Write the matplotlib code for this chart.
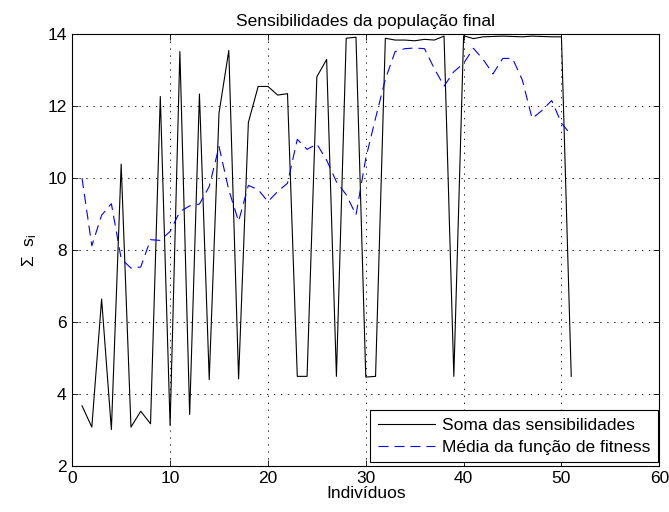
import matplotlib
matplotlib.use("Agg")
import matplotlib.pyplot as plt

plt.rcParams['font.family'] = ['Liberation Sans', 'DejaVu Sans']
plt.rcParams['mathtext.default'] = 'regular'
plt.rcParams['lines.scale_dashes'] = False

individuos = list(range(1, 52))
soma_sens = [3.67, 3.08, 6.64, 3.01, 10.39, 3.08, 3.52, 3.17, 12.27, 3.12,
             13.52, 3.43, 12.34, 4.40, 11.81, 13.55, 4.42, 11.55, 12.55, 12.55,
             12.31, 12.35, 4.49, 4.49, 12.82, 13.30, 4.49, 13.89, 13.92, 4.47,
             4.49, 13.89, 13.84, 13.84, 13.82, 13.86, 13.84, 13.95, 4.49, 13.96,
             13.88, 13.93, 13.94, 13.95, 13.94, 13.93, 13.95, 13.94, 13.93, 13.93,
             4.49]
media_fit = [10.00, 8.12, 8.97, 9.29, 7.76, 7.50, 7.53, 8.29, 8.27, 8.52,
             9.07, 9.23, 9.28, 9.77, 10.88, 9.67, 8.80, 9.80, 9.68, 9.35,
             9.63, 9.86, 11.08, 10.80, 10.95, 10.50, 9.90, 9.54, 8.98, 10.55,
             11.67, 12.75, 13.52, 13.60, 13.62, 13.60, 13.05, 12.56, 12.96, 13.19,
             13.61, 13.30, 12.90, 13.33, 13.33, 12.73, 11.66, 11.88, 12.16, 11.53,
             11.20]

labels = ['Soma das sensibilidades', 'Média da função de fitness']
xticks = [0, 10, 20, 30, 40, 50, 60]
yticks = [2, 4, 6, 8, 10, 12, 14]

FS = 12.5

fig = plt.figure(figsize=(6.69, 5.12), dpi=100)
ax = fig.add_axes([0.108, 0.09, 0.8775, 0.843])

ax.plot(individuos, soma_sens, color='black', linewidth=0.8, label=labels[0])
ax.plot(individuos, media_fit, color='blue', linewidth=0.8,
        dashes=(7.2, 4.3), label=labels[1])

ax.set_xlim(0, 60)
ax.set_ylim(2, 14)
ax.set_xticks(xticks)
ax.set_yticks(yticks)
ax.tick_params(direction='in', top=True, right=True, labelsize=FS,
               length=4, width=0.6, pad=4)
ax.grid(True, color='black', linestyle=(0, (1, 4)), linewidth=0.6)
for s in ax.spines.values():
    s.set_linewidth(0.8)

ax.set_title('Sensibilidades da população final', fontsize=FS, pad=6)
ax.set_xlabel('Indivíduos', fontsize=FS, labelpad=0)
ax.set_ylabel(r'Σ  s$_{i}$', fontsize=FS, labelpad=6)

leg = ax.legend(loc='lower right', bbox_to_anchor=(0.997, 0.009),
                fontsize=FS, fancybox=False,
                framealpha=1, edgecolor='black', borderaxespad=0.0,
                handlelength=3.3, labelspacing=0.4, borderpad=0.42,
                handletextpad=0.4)
leg.get_frame().set_linewidth(0.8)

fig.savefig('out.png', dpi=100)
